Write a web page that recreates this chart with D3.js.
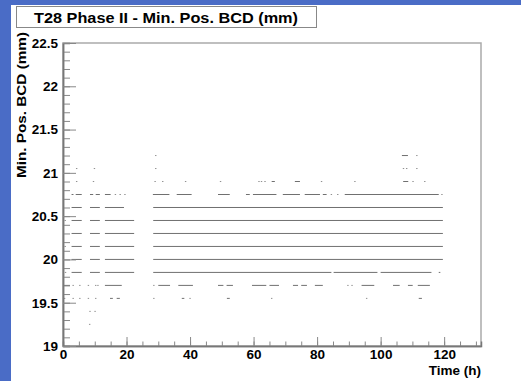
<!DOCTYPE html>
<html>
<head>
<meta charset="utf-8">
<script src="https://cdn.jsdelivr.net/npm/d3@7"></script>
<style>
  body { margin: 0; background: #fff; }
  svg text { font-family: "Liberation Sans", Arial, Helvetica, sans-serif; font-weight: bold; }
</style>
</head>
<body>
<div id="chart"></div>
<script>
const title = "T28 Phase II - Min. Pos. BCD (mm)";
const xTitle = "Time (h)";
const yTitle = "Min. Pos. BCD (mm)";
const xTicks = [0, 20, 40, 60, 80, 100, 120];
const yTicks = [19, 19.5, 20, 20.5, 21, 21.5, 22, 22.5];

// levels filled over the whole run, and the time blocks they cover (h)
const fullLevels = [20.00, 20.15, 20.30, 20.45];
const blocks = [[2.7, 5.9], [8.5, 11.6], [13.2, 22.4], [28.4, 119.6]];

// other dense stretches: [level (mm), start (h), end (h)]
const runs = [
  [20.60, 2.7, 5.9], [20.60, 8.5, 11.6], [20.60, 13.2, 19.2], [20.60, 28.4, 119.6],
  [20.75, 2.7, 3.3], [20.75, 4.0, 5.9], [20.75, 8.5, 9.5], [20.75, 10.3, 11.6],
  [20.75, 13.2, 15.0], [20.75, 28.3, 33.5], [20.75, 35.8, 40.5], [20.75, 48.8, 52.5],
  [20.75, 57.6, 58.8], [20.75, 59.8, 67.2], [20.75, 69.2, 74.6], [20.75, 76.1, 80.9],
  [20.75, 81.8, 83.0], [20.75, 88.7, 118.3],
  [19.85, 2.7, 5.9], [19.85, 8.5, 11.6], [19.85, 13.2, 22.4], [19.85, 28.4, 84.5],
  [19.85, 85.2, 99.0], [19.85, 100.0, 116.0], [19.85, 118.3, 118.8],
  [19.70, 0.1, 2.2], [19.70, 13.2, 18.5], [19.70, 30.0, 33.7], [19.70, 36.3, 40.9],
  [19.70, 48.8, 50.5], [19.70, 51.5, 53.5], [19.70, 59.5, 64.0], [19.70, 65.0, 68.0],
  [19.70, 72.4, 74.0], [19.70, 75.0, 76.8], [19.70, 79.3, 81.8], [19.70, 94.0, 98.0],
  [19.70, 103.9, 106.0], [19.70, 108.6, 110.1], [19.70, 111.7, 115.5],
  [19.55, 14.8, 15.7], [19.55, 16.9, 17.9], [19.55, 37.4, 38.2], [19.55, 51.6, 52.5],
  [19.55, 112.0, 113.0],
  [20.90, 65.7, 66.7], [20.90, 73.0, 74.6], [20.90, 107.1, 108.7],
  [21.20, 106.7, 108.6]
];

// isolated readings: [level (mm), time (h)]
const dots = [
  [20.45, 0.7], [20.15, 0.7], [19.85, 0.8],
  [20.75, 16.5], [20.75, 18.0], [20.75, 19.5], [20.75, 84.5], [20.75, 86.5], [20.75, 119.3],
  [20.90, 4.3], [20.90, 9.6], [20.90, 29.0], [20.90, 31.4], [20.90, 38.6], [20.90, 49.6],
  [20.90, 61.7], [20.90, 62.5], [20.90, 63.6], [20.90, 81.4], [20.90, 91.9],
  [20.90, 110.2], [20.90, 113.9],
  [21.05, 4.3], [21.05, 9.9], [21.05, 29.2], [21.05, 107.2], [21.05, 108.2], [21.05, 111.4],
  [21.20, 29.2], [21.20, 111.4],
  [19.70, 3.2], [19.70, 5.3], [19.70, 8.0], [19.70, 10.3], [19.70, 11.0], [19.70, 28.6],
  [19.70, 89.7], [19.70, 91.0],
  [19.55, 0.5], [19.55, 3.2], [19.55, 5.3], [19.55, 8.0], [19.55, 10.3], [19.55, 28.6],
  [19.55, 40.0], [19.55, 65.7], [19.55, 95.6],
  [19.40, 8.5], [19.40, 10.1],
  [19.25, 8.4]
];

const width = 521, height = 381;
const svg = d3.select("#chart").append("svg")
  .attr("width", width).attr("height", height);

// blue slide background around the canvas
svg.append("rect").attr("width", width).attr("height", height).attr("fill", "#4a6cc6");
svg.append("rect").attr("x", 11).attr("y", 5).attr("width", width - 11).attr("height", height - 5)
  .attr("fill", "#fff");

const x = d3.scaleLinear().domain([0, 131.6]).range([63, 481]);
const y = d3.scaleLinear().domain([19, 22.5]).range([346, 43]);

// title box
svg.append("rect").attr("x", 16.5).attr("y", 6.5).attr("width", 300).attr("height", 21)
  .attr("fill", "#fff").attr("stroke", "#888");
svg.append("text").attr("x", 166).attr("y", 22.5).attr("text-anchor", "middle")
  .attr("textLength", 264).attr("lengthAdjust", "spacingAndGlyphs")
  .style("font-size", "14.5px").text(title);

// frame
svg.append("rect").attr("x", x(0)).attr("y", y(22.5))
  .attr("width", x(131.6) - x(0)).attr("height", y(19) - y(22.5))
  .attr("fill", "none").attr("stroke", "#aaa").attr("stroke-width", 1.5);

// data
const all = runs.concat(fullLevels.flatMap(l => blocks.map(b => [l, b[0], b[1]])));
svg.append("g").selectAll("line").data(all).join("line")
  .attr("x1", d => x(d[1])).attr("x2", d => x(d[2]))
  .attr("y1", d => y(d[0])).attr("y2", d => y(d[0]))
  .attr("stroke", "#707070").attr("stroke-width", 1);
svg.append("g").selectAll("rect").data(dots).join("rect")
  .attr("x", d => x(d[1]) - 0.7).attr("y", d => y(d[0]) - 0.5)
  .attr("width", 1.4).attr("height", 1).attr("fill", "#909090");

// axes
const styleAxis = g => {
  g.select(".domain").attr("stroke", "#777").attr("stroke-width", 1.5);
  g.selectAll(".tick line").attr("stroke", "#888");
  g.selectAll("text").attr("fill", "#000").style("font-size", "13.5px").attr("font-family", null);
};

svg.append("g").attr("transform", `translate(0,${y(19)})`)
  .call(d3.axisBottom(x).tickValues(d3.range(0, 131, 5)).tickSize(-4.5).tickFormat(""))
  .call(styleAxis);
svg.append("g").attr("transform", `translate(0,${y(19)})`)
  .call(d3.axisBottom(x).tickValues(xTicks).tickSize(-9).tickSizeOuter(0).tickPadding(3).tickFormat(String))
  .call(styleAxis);

svg.append("g").attr("transform", `translate(${x(0)},0)`)
  .call(d3.axisLeft(y).tickValues(d3.range(19, 22.51, 0.1)).tickSize(-7).tickFormat(""))
  .call(styleAxis);
svg.append("g").attr("transform", `translate(${x(0)},0)`)
  .call(d3.axisLeft(y).tickValues(yTicks).tickSize(-13).tickSizeOuter(0).tickPadding(5).tickFormat(String))
  .call(styleAxis);

// axis titles
svg.append("text").attr("x", 481).attr("y", 375).attr("text-anchor", "end")
  .style("font-size", "13.5px").text(xTitle);
svg.append("text").attr("transform", "translate(26,32) rotate(-90)").attr("text-anchor", "end")
  .attr("textLength", 146).attr("lengthAdjust", "spacingAndGlyphs")
  .style("font-size", "13px").text(yTitle);
</script>
</body>
</html>
